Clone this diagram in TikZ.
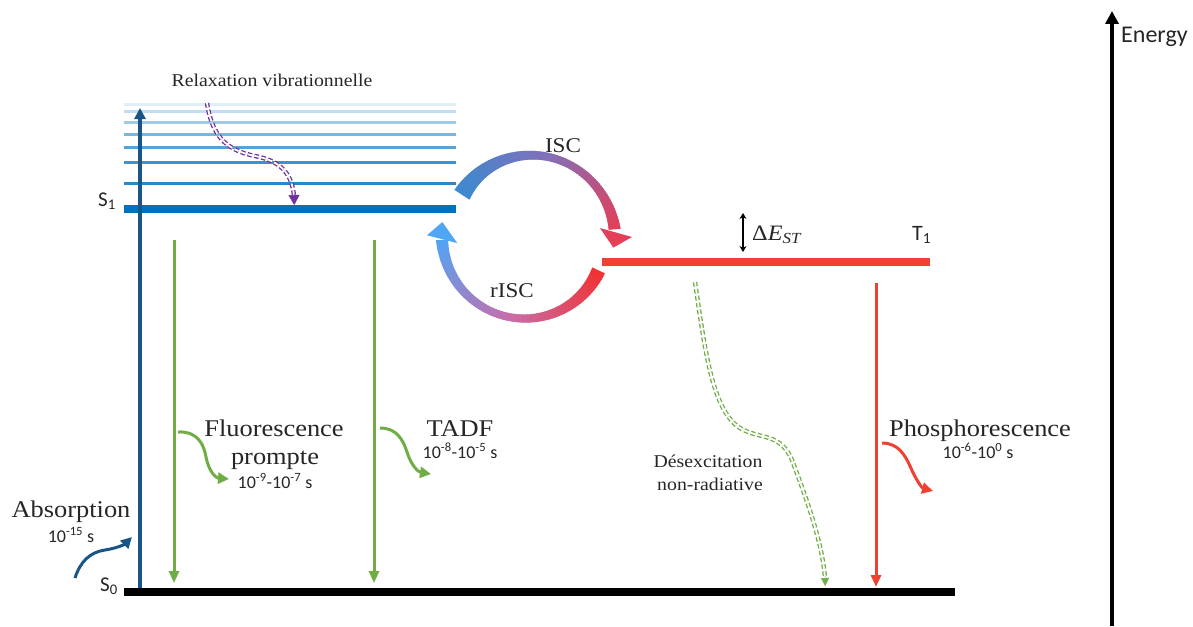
\documentclass[tikz,border=0pt]{standalone}
\usepackage{fontspec}
\setmainfont{Liberation Serif}[FakeStretch=1.1]
\newfontfamily\calib{Carlito}
\usetikzlibrary{arrows.meta}
\definecolor{s1blue}{RGB}{0,112,192}
\definecolor{absblue}{RGB}{25,85,135}
\definecolor{fgreen}{RGB}{112,173,71}
\definecolor{tred}{RGB}{238,65,50}
\definecolor{vpurple}{RGB}{112,48,160}
\definecolor{uA}{RGB}{60,138,208}
\definecolor{uB}{RGB}{130,112,185}
\definecolor{uC}{RGB}{228,62,88}
\definecolor{lA}{RGB}{240,50,50}
\definecolor{lB}{RGB}{200,110,170}
\definecolor{lC}{RGB}{80,165,245}
\newcommand\fs[1]{\fontsize{#1}{#1}\selectfont}
\tikzset{
  lbl/.style={inner sep=0pt, anchor=base, text=black!85},
  level/.style={line width=3pt},
  biglevel/.style={line width=7.5pt},
  emis/.style={line width=3pt, -{Triangle[length=12pt,width=10pt]}},
  wavy/.style={line width=3pt, -{Triangle[length=11pt,width=11pt]}},
  dbl/.style={line width=1.3pt, double=white, double distance=1.8pt, dash pattern=on 4.5pt off 2.5pt},
}
\begin{document}
\begin{tikzpicture}[x=1pt,y=-1pt]
\useasboundingbox (0,0) rectangle (1193,626);
% vibrational levels
\foreach \yy/\pc in {104/12,111/24,122/38,134/52,147/66,162/76,183/84}{
  \draw[level, s1blue!\pc!white] (124,\yy) -- (456,\yy);
}
% main levels
\coordinate (s1a) at (124,209); \coordinate (s1b) at (456,209);
\draw[biglevel, s1blue] (s1a) -- (s1b);
\coordinate (s0a) at (124,592); \coordinate (s0b) at (955,592);
\draw[line width=8pt, black] (s0a) -- (s0b);
\coordinate (t1a) at (602,262); \coordinate (t1b) at (930,262);
\draw[biglevel, tred] (t1a) -- (t1b);
% absorption arrow
\coordinate (absb) at (140,588); \coordinate (abst) at (140,108);
\draw[line width=3.5pt, absblue, -{Triangle[length=11pt,width=11pt]}] (absb) -- (abst);
% fluorescence / TADF arrows
\coordinate (f1) at (174,240); \coordinate (f2) at (174,583);
\draw[emis, fgreen] (f1) -- (f2);
\coordinate (t1) at (374,240); \coordinate (t2) at (374,583);
\draw[emis, fgreen] (t1) -- (t2);
% phosphorescence
\coordinate (p1) at (876,283); \coordinate (p2) at (876,587);
\draw[emis, tred] (p1) -- (p2);
% wavy arrows
\draw[wavy, fgreen] (178,432) .. controls (198,431) and (204,445) .. (206,457) .. controls (209,472) and (216,478) .. (229,479);
\draw[wavy, fgreen] (380,428) .. controls (397,428) and (403,440) .. (407,452) .. controls (411,465) and (418,472) .. (431,474);
\draw[wavy, tred] (882,443) .. controls (898,443) and (905,455) .. (910,466) .. controls (916,480) and (922,488) .. (933,491);
\draw[wavy, absblue] (75,578) .. controls (80,562) and (90,552) .. (105,550) .. controls (118,548) and (125,544) .. (132,537);
% vibrational relaxation
\draw[dbl, vpurple] (207,103) .. controls (212,135) and (225,150) .. (255,156) .. controls (282,161) and (292,175) .. (294,196);
\draw[vpurple, line width=0.5pt, -{Triangle[length=10pt,width=11pt]}] (294,194) -- (294.2,205);
% non radiative
\draw[dbl, fgreen] (695,282) .. controls (705,350) and (712,410) .. (740,428) .. controls (760,440) and (780,432) .. (792,460) .. controls (805,495) and (822,540) .. (825,578);
\draw[fgreen, line width=0.5pt, -{Triangle[length=8pt,width=8pt]}] (825,576) -- (825.2,586);
% Delta E
\coordinate (de1) at (743,213); \coordinate (de2) at (743,252);
\draw[line width=1.5pt, {Stealth[length=6pt,width=7pt]}-{Stealth[length=6pt,width=7pt]}] (de1) -- (de2);
% energy axis
\coordinate (e1) at (1112,626); \coordinate (e2) at (1112,11);
\draw[line width=4pt, -{Triangle[length=13pt,width=13pt]}] (e1) -- (e2);
% ISC upper arrow (gradient)
\begin{scope}[shift={(527,237)}]
\foreach \i in {0,...,71}{%
  \pgfmathsetmacro\tA{\i/72}%
  \pgfmathsetmacro\tB{min((\i+1.6)/72,1)}%
  \pgfmathsetmacro\aA{213+142*\tA}%
  \pgfmathsetmacro\aB{213+142*\tB}%
  \pgfmathsetmacro\rA{77.5+10.5*\tA}%
  \pgfmathsetmacro\rB{77.5+10.5*\tB}%
  \pgfmathsetmacro\wA{(18-33.5*\tA+27.5*\tA*\tA)/2}%
  \pgfmathsetmacro\wB{(18-33.5*\tB+27.5*\tB*\tB)/2}%
  \pgfmathsetmacro\oA{\rA+\wA}\pgfmathsetmacro\iA{\rA-\wA}%
  \pgfmathsetmacro\oB{\rB+\wB}\pgfmathsetmacro\iB{\rB-\wB}%
  \ifdim\tA pt<0.5pt
    \pgfmathsetmacro\pc{200*\tA}\colorlet{cur}{uB!\pc!uA}%
  \else
    \pgfmathsetmacro\pc{200*\tA-100}\colorlet{cur}{uC!\pc!uB}%
  \fi
  \fill[cur] (\aA:\oA) -- (\aB:\oB) -- (\aB:\iB) -- (\aA:\iA) -- cycle;
}
\fill[uC] (353:73.5) -- (360:105) -- (367:87) -- cycle;
% lower rISC arrow
\foreach \i in {0,...,71}{%
  \pgfmathsetmacro\tA{\i/72}%
  \pgfmathsetmacro\tB{min((\i+1.6)/72,1)}%
  \pgfmathsetmacro\aA{25+153*\tA}%
  \pgfmathsetmacro\aB{25+153*\tB}%
  \pgfmathsetmacro\rA{79+6*\tA}%
  \pgfmathsetmacro\rB{79+6*\tB}%
  \pgfmathsetmacro\wA{(14-22.45*\tA+20.45*\tA*\tA)/2}%
  \pgfmathsetmacro\wB{(14-22.45*\tB+20.45*\tB*\tB)/2}%
  \pgfmathsetmacro\oA{\rA+\wA}\pgfmathsetmacro\iA{\rA-\wA}%
  \pgfmathsetmacro\oB{\rB+\wB}\pgfmathsetmacro\iB{\rB-\wB}%
  \ifdim\tA pt<0.5pt
    \pgfmathsetmacro\pc{200*\tA}\colorlet{cur}{lB!\pc!lA}%
  \else
    \pgfmathsetmacro\pc{200*\tA-100}\colorlet{cur}{lC!\pc!lB}%
  \fi
  \fill[cur] (\aA:\oA) -- (\aB:\oB) -- (\aB:\iB) -- (\aA:\iA) -- cycle;
}
\fill[lC] (175:70) -- (181:100) -- (190:86) -- cycle;
\end{scope}
% labels
\node[lbl] (relax) at (272,86) {\fs{18}Relaxation vibrationnelle};
\node[lbl] (isc) at (563,152) {\fs{21}ISC};
\node[lbl] (risc) at (512,297) {\fs{21}rISC};
\node[lbl, anchor=base west] (s1) at (98,206) {\calib\fs{21}S\textsubscript{1}};
\node[lbl, anchor=base west] (s0) at (100,591) {\calib\fs{21}S\textsubscript{0}};
\node[lbl, anchor=base west] (t1l) at (912,240) {\calib\fs{22}T\textsubscript{1}};
\node[lbl, anchor=base west] (de) at (752,240) {\fs{22}Δ\textit{E}\textsubscript{\textit{ST}}};
\node[lbl, anchor=base west] (energy) at (1121,42) {\calib\fs{24}Energy};
\node[lbl] (abs) at (71,517) {\fs{24}Absorption};
\node[lbl] (abst) at (71,542) {\calib\fs{18}10\textsuperscript{-15} s};
\node[lbl] (fl) at (274,436) {\fs{24}Fluorescence};
\node[lbl] (fl2) at (275,464) {\fs{24}prompte};
\node[lbl] (flt) at (275,488) {\calib\fs{18}10\textsuperscript{-9}-10\textsuperscript{-7} s};
\node[lbl] (tadf) at (460,436) {\fs{24}TADF};
\node[lbl] (tadft) at (460,458) {\calib\fs{18}10\textsuperscript{-8}-10\textsuperscript{-5} s};
\node[lbl] (ph) at (980,436) {\fs{24}Phosphorescence};
\node[lbl] (pht) at (978,458) {\calib\fs{18}10\textsuperscript{-6}-10\textsuperscript{0} s};
\node[lbl] (nr) at (708,467) {\fs{18}Désexcitation};
\node[lbl] (nr2) at (710,490) {\fs{18}non-radiative};
\end{tikzpicture}
\end{document}
